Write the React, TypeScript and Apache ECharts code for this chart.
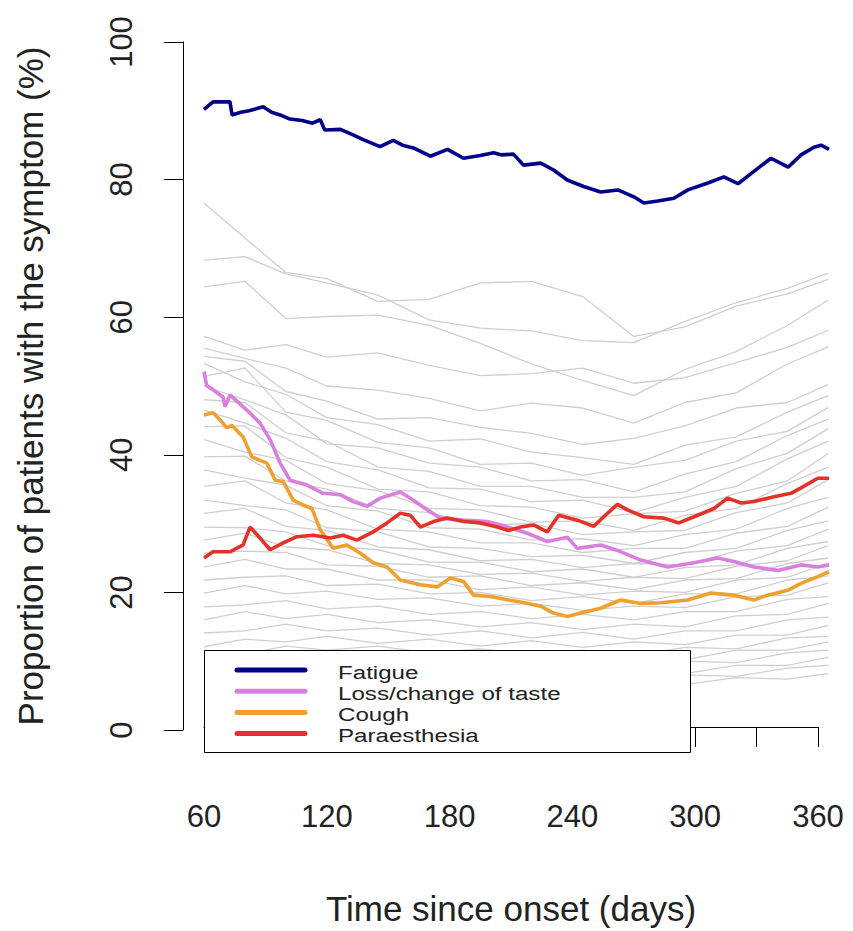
import React, { useEffect, useRef } from 'react';
import * as echarts from 'echarts';

const xAxisMin = 60;
const xAxisMax = 360;
const xDataMax = 366;
const xTickStep = 30;
const xLabelStep = 60;
const yAxisMin = 0;
const yAxisMax = 100;
const yTickStep = 20;

const symptomNames = ['Fatigue', 'Loss/change of taste', 'Cough', 'Paraesthesia'];
const symptomColors = ['#00008B', '#DA7FE0', '#F0A030', '#E53228'];

const fatigueDays = [60, 64.4, 72.7, 73.7, 78, 82, 88.9, 93, 97.2, 102, 108, 113, 116.8, 119, 126.6, 132, 137.8, 146, 152.5, 157, 162.3, 170.6, 179, 186.8, 195, 201.5, 205, 211.2, 216.1, 224.5, 230.8, 237.7, 245.5, 253.8, 262.2, 270, 274.9, 281.7, 289.6, 296.4, 306.2, 314, 320.9, 328.7, 337, 345.4, 351.7, 358, 361.5, 365.4];
const fatigueValues = [90.2, 91.3, 91.3, 89.4, 89.8, 90.0, 90.6, 89.8, 89.4, 88.8, 88.6, 88.2, 88.7, 87.2, 87.3, 86.6, 85.8, 84.8, 85.7, 85.0, 84.6, 83.4, 84.4, 83.1, 83.5, 83.9, 83.6, 83.7, 82.1, 82.4, 81.4, 79.9, 79.0, 78.2, 78.5, 77.5, 76.6, 76.9, 77.3, 78.5, 79.5, 80.4, 79.4, 81.2, 83.1, 81.8, 83.6, 84.7, 85.0, 84.4];

const tasteDays = [60, 61.3, 69.3, 70.3, 72.7, 80.9, 87.4, 92.3, 97.2, 102.1, 110.3, 118.2, 126.6, 132.9, 139.6, 146.1, 155.9, 162.3, 169, 175.5, 186.8, 198.4, 206.4, 218, 227.7, 237.5, 242.4, 253.8, 262, 273.4, 286.5, 299.4, 311, 318.9, 328.7, 340.3, 351.7, 359.9, 365.4];
const tasteValues = [52.1, 50.1, 48.4, 47.0, 48.7, 46.5, 44.6, 42.2, 38.8, 36.3, 35.6, 34.4, 34.2, 33.2, 32.5, 33.7, 34.6, 33.4, 32.0, 30.8, 30.5, 30.3, 29.7, 28.6, 27.4, 28.0, 26.4, 26.9, 26.1, 24.7, 23.7, 24.3, 25.0, 24.5, 23.7, 23.2, 24.0, 23.7, 24.0];

const coughDays = [60, 64.4, 67.8, 71.1, 73.6, 79.1, 83.3, 87.4, 90.7, 94.8, 98.7, 103.6, 108.5, 112.7, 116.8, 123.1, 129.8, 136.4, 142.7, 149.4, 155.9, 165.7, 173.9, 180.4, 186.8, 191.7, 200, 208.8, 214.7, 224.5, 230.8, 237.5, 244, 253.8, 263.6, 273.4, 283.2, 296.3, 307.7, 318.9, 328.7, 335.4, 345.2, 351.7, 359.9, 365.4];
const coughValues = [45.8, 46.1, 45.1, 43.9, 44.3, 42.6, 39.7, 39.2, 38.8, 36.3, 36.1, 33.4, 32.7, 32.2, 29.1, 26.4, 26.9, 25.7, 24.3, 23.7, 21.8, 21.1, 20.8, 22.1, 21.6, 19.6, 19.4, 18.9, 18.6, 18.0, 17.0, 16.5, 17.0, 17.7, 18.9, 18.4, 18.5, 18.9, 19.9, 19.6, 18.9, 19.6, 20.3, 21.3, 22.3, 23.0];

const paraesthesiaDays = [60, 64.4, 72.7, 79.1, 82.5, 87.4, 92.3, 98.7, 105.4, 113.4, 121.7, 128, 134.7, 142.7, 149.4, 155.9, 160.8, 165.7, 172.1, 178.8, 186.8, 195.1, 203.3, 208.8, 214.7, 221, 227.7, 233.3, 242.4, 250.4, 255.3, 262, 266.9, 274.9, 284.7, 292, 299.4, 309.2, 315.8, 322.4, 328.7, 338.5, 346.8, 351.7, 359.9, 365.4];
const paraesthesiaValues = [25.0, 25.9, 25.9, 26.9, 29.5, 27.9, 26.2, 27.2, 28.1, 28.3, 27.9, 28.3, 27.6, 28.8, 30.1, 31.5, 31.2, 29.5, 30.3, 30.8, 30.3, 30.1, 29.5, 29.0, 29.5, 29.8, 28.8, 31.2, 30.5, 29.6, 31.0, 32.8, 32.0, 31.0, 30.8, 30.1, 31.0, 32.2, 33.7, 33.0, 33.2, 33.9, 34.4, 35.2, 36.6, 36.6];

const grayDays = [60, 80, 100, 120, 145, 170, 195, 220, 245, 270, 295, 320, 345, 365];
const grayValues = [
  [76.6, 71.5, 66.5, 65.6, 62.3, 62.6, 65.0, 65.2, 63.0, 57.2, 58.6, 61.6, 63.4, 65.5],
  [68.3, 68.8, 66.3, 65.0, 63.2, 59.6, 58.4, 58.0, 56.6, 56.3, 59.4, 62.1, 64.2, 66.4],
  [64.4, 65.2, 59.8, 60.1, 60.3, 58.8, 56.2, 53.2, 50.8, 48.6, 52.4, 55.0, 58.8, 62.5],
  [57.2, 55.2, 56.0, 54.2, 54.8, 53.0, 51.5, 51.8, 52.6, 50.4, 51.2, 53.4, 55.6, 58.1],
  [55.5, 54.0, 52.6, 50.0, 49.4, 48.2, 46.4, 47.5, 46.8, 44.6, 47.6, 49.0, 53.2, 55.7],
  [54.3, 53.6, 49.2, 47.8, 45.2, 45.4, 44.0, 43.1, 41.5, 42.4, 44.2, 46.8, 47.6, 50.2],
  [53.3, 50.6, 48.8, 45.4, 44.4, 42.0, 42.3, 40.4, 39.6, 38.6, 41.4, 42.6, 46.2, 48.6],
  [51.4, 52.6, 46.2, 45.0, 41.8, 41.0, 38.6, 38.8, 37.0, 38.2, 39.2, 42.0, 43.4, 46.9],
  [50.0, 48.0, 45.8, 41.6, 41.0, 38.8, 38.2, 36.2, 36.4, 34.6, 37.2, 39.0, 42.8, 45.2],
  [48.0, 47.6, 43.2, 42.0, 38.2, 37.6, 35.4, 35.4, 33.8, 33.8, 34.6, 38.0, 40.2, 43.8],
  [46.5, 44.6, 42.4, 39.0, 37.8, 35.2, 35.0, 33.2, 33.4, 31.6, 33.8, 35.4, 39.4, 42.0],
  [44.1, 44.2, 39.6, 38.2, 35.0, 34.6, 32.6, 32.4, 30.8, 31.4, 31.8, 34.4, 36.2, 40.2],
  [42.2, 40.4, 39.2, 35.8, 34.8, 32.2, 32.0, 30.2, 30.4, 29.0, 31.2, 32.2, 35.8, 38.2],
  [39.7, 39.8, 36.2, 35.0, 32.2, 31.6, 29.8, 30.0, 28.4, 28.8, 29.0, 31.6, 33.0, 36.4],
  [37.8, 36.6, 35.6, 32.6, 31.8, 29.4, 29.2, 27.6, 27.8, 26.8, 28.4, 29.2, 32.2, 33.8],
  [35.4, 36.2, 33.0, 32.0, 29.2, 28.8, 27.2, 27.2, 25.8, 26.4, 26.4, 28.6, 29.6, 32.4],
  [33.4, 32.6, 32.0, 29.4, 28.8, 26.6, 26.4, 25.2, 25.4, 24.2, 25.8, 26.4, 29.0, 30.4],
  [31.5, 32.2, 29.6, 29.0, 26.6, 26.2, 24.6, 24.8, 23.6, 24.2, 24.0, 26.0, 26.8, 29.2],
  [29.5, 29.4, 28.8, 26.8, 26.2, 24.4, 24.4, 23.0, 23.4, 22.2, 23.6, 24.0, 26.4, 27.4],
  [27.6, 28.6, 26.6, 26.2, 24.2, 24.0, 22.6, 22.8, 21.6, 22.2, 22.0, 23.8, 24.6, 26.8],
  [25.7, 26.0, 25.8, 24.0, 23.8, 22.2, 22.4, 21.0, 21.4, 20.4, 21.8, 22.0, 24.2, 25.0],
  [23.7, 24.8, 23.4, 23.4, 21.8, 21.8, 20.4, 20.8, 19.6, 20.2, 20.0, 21.8, 22.2, 24.2],
  [21.8, 22.2, 22.4, 21.0, 21.2, 19.8, 20.0, 18.8, 19.4, 18.4, 19.8, 19.8, 21.8, 22.4],
  [19.9, 21.0, 19.8, 20.2, 19.0, 19.2, 18.0, 18.4, 17.4, 18.0, 17.8, 19.4, 19.6, 21.4],
  [17.9, 18.2, 18.8, 17.6, 18.0, 16.8, 17.2, 16.2, 16.8, 16.0, 17.2, 17.2, 19.0, 19.4],
  [16.0, 17.2, 16.2, 16.8, 15.6, 16.0, 15.0, 15.6, 14.6, 15.4, 15.0, 16.6, 16.8, 18.4],
  [14.1, 14.4, 15.4, 14.4, 14.8, 13.8, 14.4, 13.4, 14.2, 13.2, 14.4, 14.4, 16.0, 16.4],
  [12.1, 13.2, 12.8, 13.6, 12.6, 13.2, 12.2, 13.0, 12.0, 12.8, 12.4, 13.8, 13.8, 15.2],
  [11.0, 11.0, 12.2, 11.6, 12.2, 11.2, 11.8, 11.0, 11.6, 10.8, 12.0, 11.8, 13.4, 13.6],
  [10.0, 10.8, 10.4, 11.2, 10.2, 10.8, 9.8, 10.6, 9.6, 10.6, 10.2, 11.6, 11.6, 12.8],
  [9.0, 9.0, 10.0, 9.4, 10.0, 9.0, 9.6, 8.8, 9.4, 8.8, 10.0, 9.8, 11.2, 11.6],
  [8.2, 8.8, 8.4, 9.0, 8.2, 8.8, 7.8, 8.6, 7.8, 8.6, 8.2, 9.4, 9.4, 10.6],
  [7.4, 7.4, 8.0, 7.6, 8.0, 7.2, 7.8, 7.0, 7.6, 7.0, 8.0, 7.8, 9.0, 9.4],
  [6.8, 7.2, 6.8, 7.4, 6.6, 7.2, 6.4, 7.0, 6.4, 7.0, 6.6, 7.6, 7.4, 8.2],
];

const xAxisTitle = 'Time since onset (days)';
const yAxisTitle = 'Proportion of patients with the symptom (%)';

function pairs(days: number[], vals: number[]) {
  return days.map((d, i) => [d, vals[i]]);
}

export default function App() {
  const ref = useRef<HTMLDivElement>(null);
  useEffect(() => {
    if (!ref.current) return;
    const chart = echarts.init(ref.current, undefined, { renderer: 'svg' });
    const font = "'Liberation Sans', Arial, Helvetica, sans-serif";
    const textColor = '#222';

    // layout: x = 60 at px 204, x = 360 at px 818
    const plotLeft = 204;
    const axisRightPx = 818;
    const pxPerDay = (axisRightPx - plotLeft) / (xAxisMax - xAxisMin);
    const dataRightPx = plotLeft + (xDataMax - xAxisMin) * pxPerDay;
    const W = 853;

    const series: any[] = [];
    grayValues.forEach((vals, i) => {
      series.push({
        type: 'line',
        name: 'other' + i,
        xAxisIndex: 0,
        yAxisIndex: 0,
        data: pairs(grayDays, vals),
        showSymbol: false,
        symbol: 'none',
        silent: true,
        emphasis: { disabled: true },
        lineStyle: { color: '#cfcfcf', width: 1.3 },
      });
    });
    const symptomData = [
      pairs(fatigueDays, fatigueValues),
      pairs(tasteDays, tasteValues),
      pairs(coughDays, coughValues),
      pairs(paraesthesiaDays, paraesthesiaValues),
    ];
    symptomData.forEach((d, i) => {
      series.push({
        type: 'line',
        name: symptomNames[i],
        xAxisIndex: 0,
        yAxisIndex: 0,
        data: d,
        showSymbol: false,
        symbol: 'none',
        emphasis: { disabled: true },
        lineStyle: { color: symptomColors[i], width: 3.6 },
      });
    });

    const legendTop = 650;
    const legendLeft = 204;
    const graphic: any[] = [
      {
        type: 'rect',
        z: 100,
        shape: { x: legendLeft + 0.5, y: legendTop + 0.5, width: 486, height: 102 },
        style: { fill: '#fff', stroke: '#000', lineWidth: 1 },
      },
    ];
    symptomNames.forEach((name, i) => {
      const yRow = 670 + i * 21.2;
      graphic.push({
        type: 'line',
        z: 101,
        shape: { x1: 237, y1: yRow, x2: 305, y2: yRow },
        style: { stroke: symptomColors[i], lineWidth: 5, lineCap: 'round' },
      });
      graphic.push({
        type: 'text',
        z: 101,
        x: 338,
        y: yRow + 2,
        scaleX: 1.27,
        style: {
          text: name,
          fontSize: 19,
          fontFamily: font,
          fill: textColor,
          verticalAlign: 'middle',
          align: 'left',
        },
      });
    });

    chart.setOption({
      animation: false,
      backgroundColor: '#fff',
      grid: [
        { left: plotLeft, right: W - dataRightPx, top: 42, bottom: 201, containLabel: false },
        { left: plotLeft, right: W - axisRightPx, top: 42, bottom: 201, containLabel: false },
      ],
      xAxis: [
        {
          type: 'value',
          gridIndex: 0,
          min: xAxisMin,
          max: xDataMax,
          show: false,
        },
        {
          type: 'value',
          gridIndex: 1,
          min: xAxisMin,
          max: xAxisMax,
          interval: xTickStep,
          offset: 22,
          axisLine: { show: true, lineStyle: { color: '#000', width: 1 } },
          axisTick: { show: true, length: 20, lineStyle: { color: '#000', width: 1 } },
          axisLabel: {
            formatter: (v: number) => (v % xLabelStep === 0 ? String(v) : ''),
            fontSize: 31,
            fontFamily: font,
            color: textColor,
            margin: 52,
            showMinLabel: true,
            showMaxLabel: true,
          },
          splitLine: { show: false },
          name: xAxisTitle,
          nameLocation: 'middle',
          nameGap: 142,
          nameTextStyle: { fontSize: 35, fontFamily: font, color: textColor },
        },
      ],
      yAxis: [
        {
          type: 'value',
          gridIndex: 0,
          min: yAxisMin,
          max: yAxisMax,
          interval: yTickStep,
          offset: 21,
          axisLine: { show: true, lineStyle: { color: '#000', width: 1 } },
          axisTick: { show: true, length: 19, lineStyle: { color: '#000', width: 1 } },
          axisLabel: {
            rotate: 90,
            fontSize: 31,
            fontFamily: font,
            color: textColor,
            margin: 46,
            showMinLabel: true,
            showMaxLabel: true,
          },
          splitLine: { show: false },
          name: yAxisTitle,
          nameLocation: 'middle',
          nameGap: 135,
          nameTextStyle: { fontSize: 35, fontFamily: font, color: textColor },
        },
        {
          type: 'value',
          gridIndex: 1,
          min: yAxisMin,
          max: yAxisMax,
          show: false,
        },
      ],
      series,
      graphic,
    });
    return () => chart.dispose();
  }, []);
  return (
    <div
      ref={ref}
      style={{ position: 'fixed', left: 0, top: 0, width: 853, height: 931, background: '#fff' }}
    />
  );
}
